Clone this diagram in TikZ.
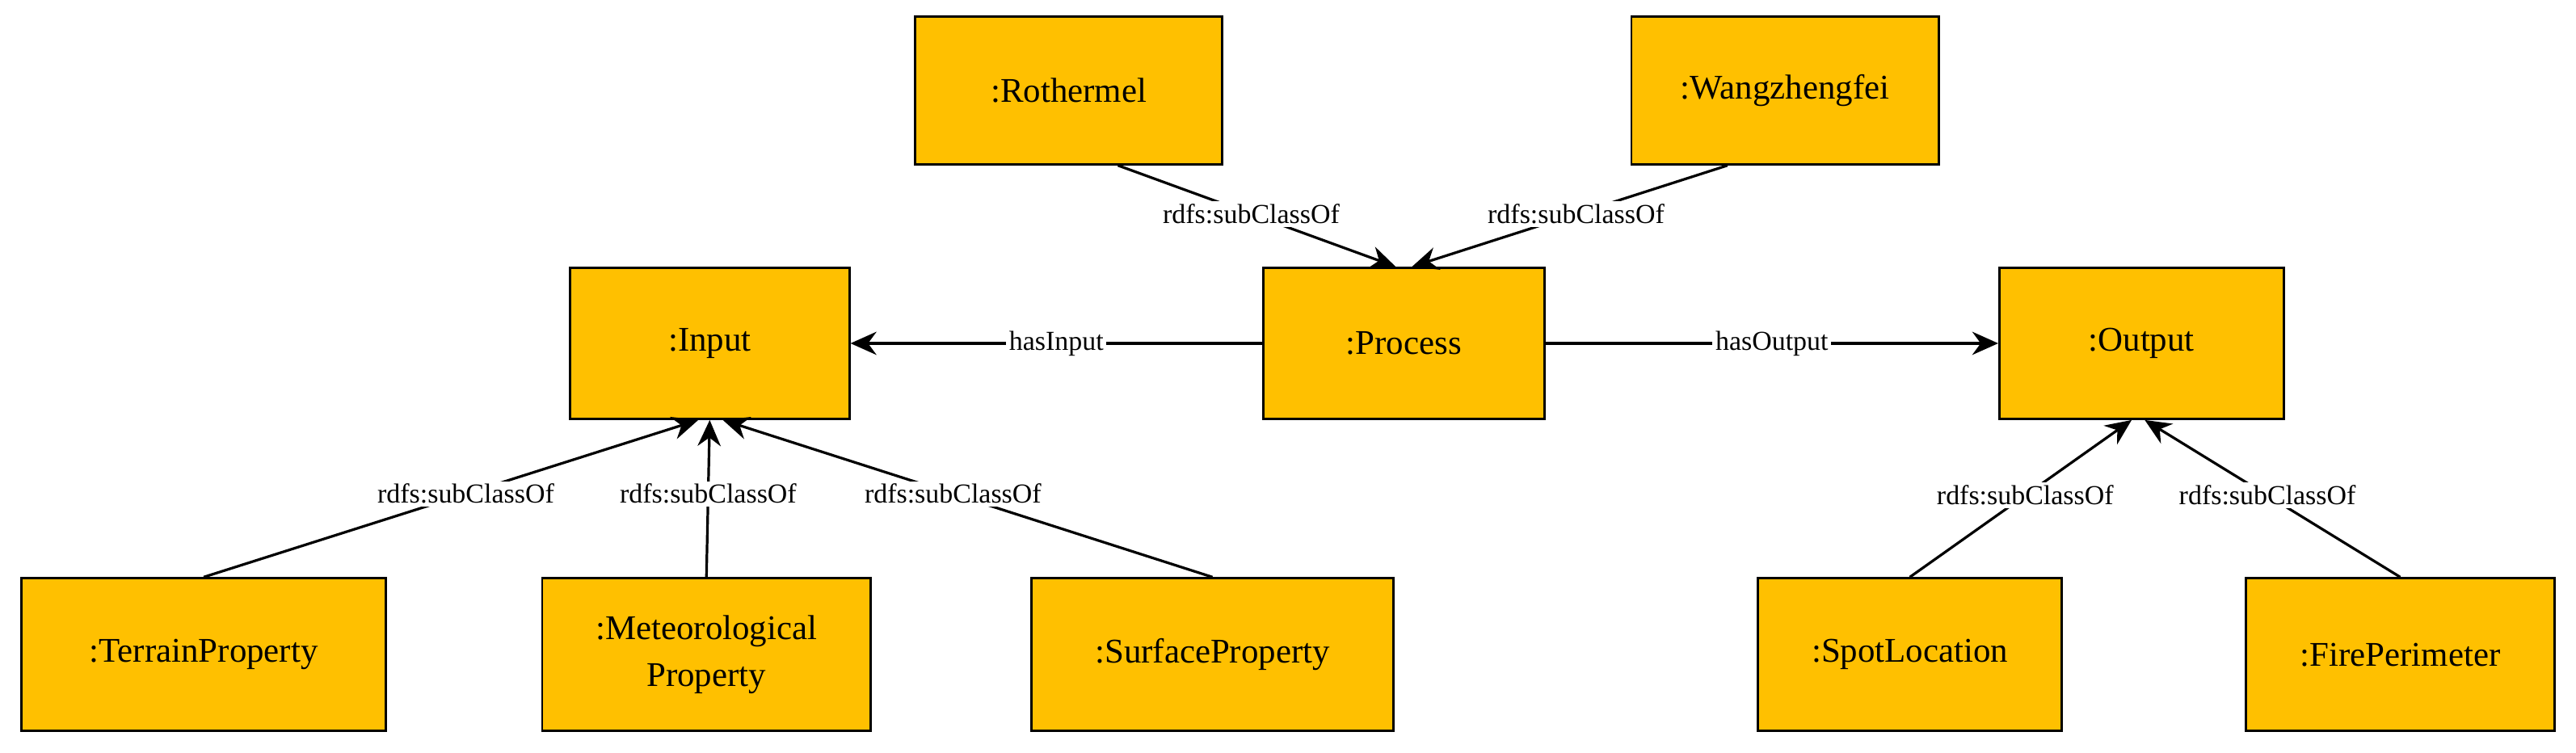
\documentclass[tikz,border=0pt]{standalone}
\usepackage{fontspec}
\setmainfont{Liberation Serif}
\usetikzlibrary{arrows.meta}
\begin{document}
\begin{tikzpicture}[x=0.02cm,y=-0.02cm,
  box/.style={draw=black,fill={rgb,255:red,255;green,192;blue,0},line width=0.8pt,font=\fontsize{12}{14}\selectfont,align=center,inner sep=0},
  rel/.style={-{Stealth[length=9pt,width=8pt]},line width=0.9pt},
  lab/.style={fill=white,inner sep=1pt,font=\fontsize{9.5}{11}\selectfont}]
\useasboundingbox (0,0) rectangle (1568,458);
\node[box,minimum width=3.74cm,minimum height=1.8cm] (roth) at (650.5,55) {:Rothermel};
\node[box,minimum width=3.74cm,minimum height=1.8cm] (wang) at (1086.5,55) {:Wangzhengfei};
\node[box,minimum width=3.4cm,minimum height=1.84cm] (in) at (432,209) {:Input};
\node[box,minimum width=3.42cm,minimum height=1.84cm] (proc) at (854.5,209) {:Process};
\node[box,minimum width=3.46cm,minimum height=1.84cm] (out) at (1303.5,209) {:Output};
\node[box,minimum width=4.44cm,minimum height=1.86cm] (terr) at (124,398.5) {:TerrainProperty};
\node[box,minimum width=4cm,minimum height=1.86cm] (met) at (430,398.5) {:Meteorological\\[2pt]Property};
\node[box,minimum width=4.4cm,minimum height=1.86cm] (surf) at (738,398.5) {:SurfaceProperty};
\node[box,minimum width=3.7cm,minimum height=1.86cm] (spot) at (1162.5,398.5) {:SpotLocation};
\node[box,minimum width=3.76cm,minimum height=1.86cm] (fire) at (1461,398.5) {:FirePerimeter};
\draw[rel] ([xshift=0.6cm]roth.south) -- ([xshift=-0.1cm]proc.north) node[lab,pos=0.48]{rdfs:subClassOf};
\draw[rel] ([xshift=-0.7cm]wang.south) -- ([xshift=0.1cm]proc.north) node[lab,pos=0.48]{rdfs:subClassOf};
\draw[rel] (proc.west) -- (in.east) node[lab,midway]{hasInput};
\draw[rel] (proc.east) -- (out.west) node[lab,midway]{hasOutput};
\draw[rel] (terr.north) -- ([xshift=-0.14cm]in.south) node[lab,pos=0.53]{rdfs:subClassOf};
\draw[rel] (met.north) -- (in.south) node[lab,pos=0.53]{rdfs:subClassOf};
\draw[rel] (surf.north) -- ([xshift=0.16cm]in.south) node[lab,pos=0.53]{rdfs:subClassOf};
\draw[rel] (spot.north) -- ([xshift=-0.12cm]out.south) node[lab,pos=0.52]{rdfs:subClassOf};
\draw[rel] (fire.north) -- ([xshift=0.04cm]out.south) node[lab,pos=0.52]{rdfs:subClassOf};
\end{tikzpicture}
\end{document}
